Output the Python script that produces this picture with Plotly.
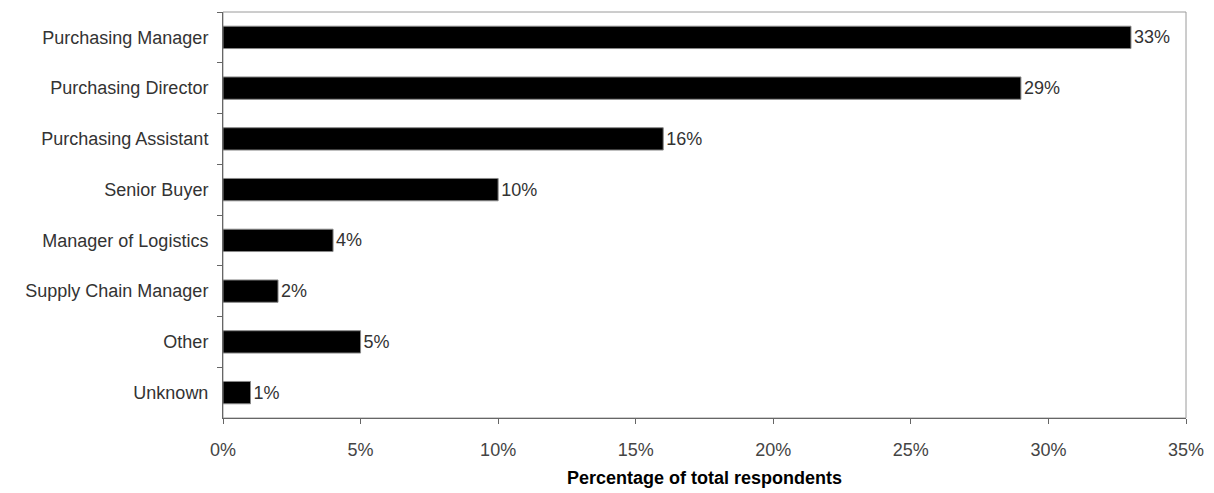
import plotly.graph_objects as go

categories = ["Purchasing Manager", "Purchasing Director", "Purchasing Assistant",
              "Senior Buyer", "Manager of Logistics", "Supply Chain Manager",
              "Other", "Unknown"]
values = [33, 29, 16, 10, 4, 2, 5, 1]
x_ticks = [0, 5, 10, 15, 20, 25, 30, 35]
x_tick_labels = [f"{v}%" for v in x_ticks]

font_family = "Liberation Sans, Arial, sans-serif"

fig = go.Figure(go.Bar(
    y=categories, x=values, orientation="h",
    marker=dict(color="black", line=dict(color="#888888", width=1)),
    text=[f"{v}%" for v in values], textposition="outside",
    textfont=dict(family=font_family, size=18, color="#333333"),
    cliponaxis=False, width=0.44,
))

fig.update_layout(
    width=1214, height=493,
    margin=dict(l=223, r=28, t=12, b=75),
    plot_bgcolor="white", paper_bgcolor="white",
    showlegend=False,
    font=dict(family=font_family, size=18, color="#333333"),
    shapes=[dict(type="rect", xref="paper", yref="paper", x0=0, y0=0, x1=1, y1=1,
                 line=dict(color="#9a9a9a", width=1), layer="below")],
)
fig.update_xaxes(
    range=[0, 35], tickvals=x_ticks, ticktext=x_tick_labels,
    showgrid=False, zeroline=False,
    showline=True, linecolor="#666666", linewidth=1,
    ticks="outside", ticklen=5, tickcolor="#666666", ticklabelstandoff=10,
    tickfont=dict(size=18, color="#444444"),
    automargin=False,
    title=dict(text="<b>Percentage of total respondents</b>",
               font=dict(size=18, color="black"), standoff=12),
)
fig.update_yaxes(
    autorange="reversed", showgrid=False, zeroline=False,
    showline=True, linecolor="#666666", linewidth=1,
    ticks="outside", ticklen=5, tickcolor="#666666", tickson="boundaries",
    ticklabelstandoff=10, automargin=False,
    tickfont=dict(size=18, color="#333333"),
)

fig.write_html("out.html")
